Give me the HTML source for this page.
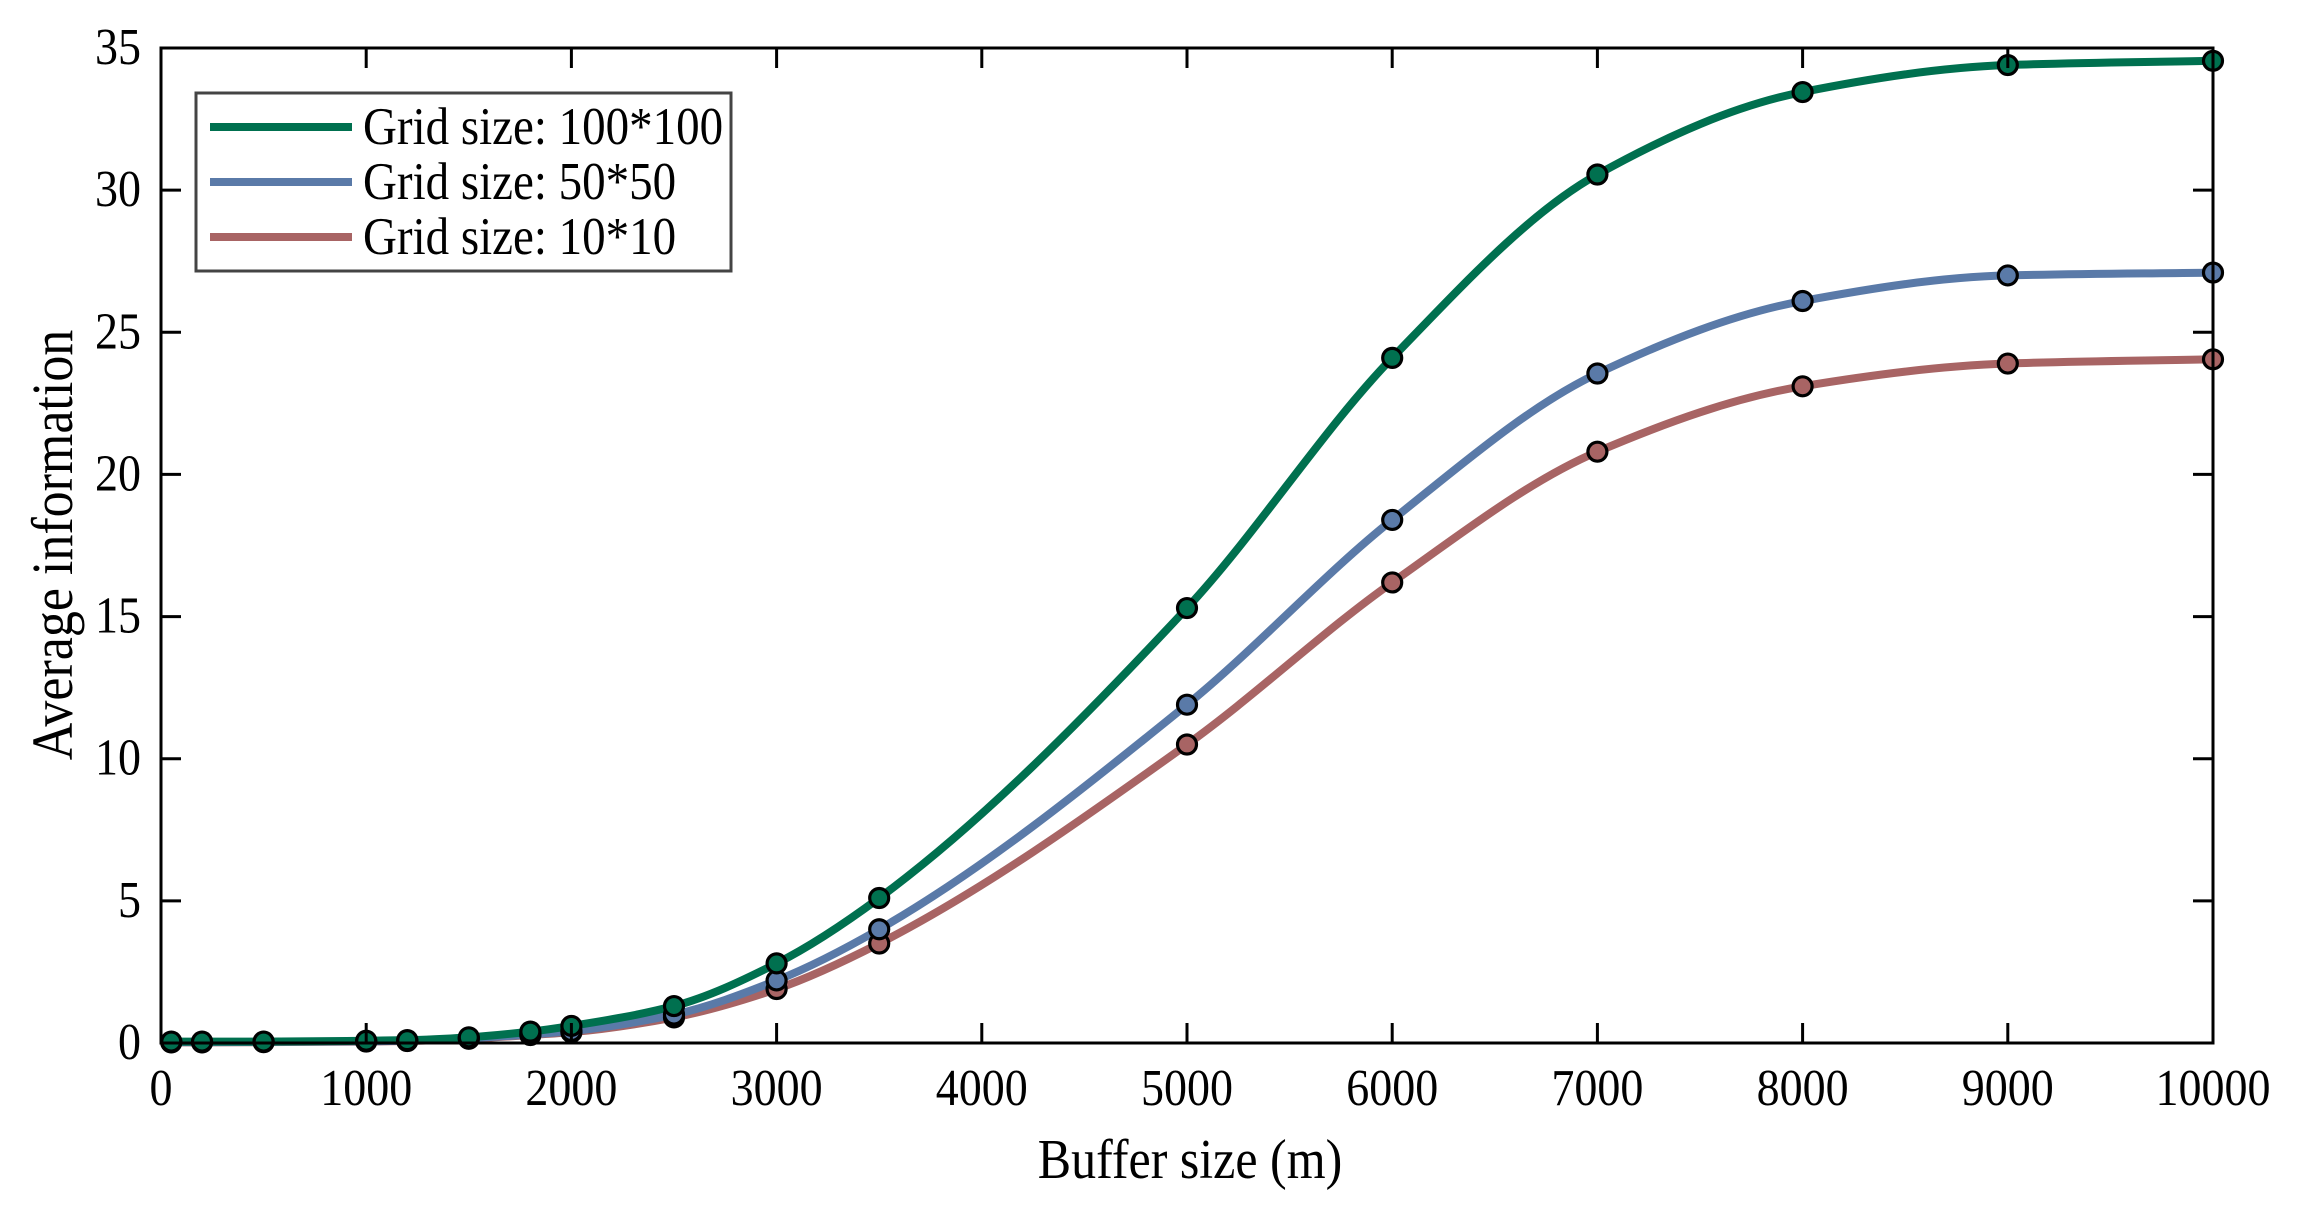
<!DOCTYPE html>
<html><head><meta charset="utf-8"><style>
html,body{margin:0;padding:0;background:#fff;}
svg{display:block;}
text{font-family:"Liberation Serif",serif;fill:#000;}
</style></head><body>
<svg id="s" width="2307" height="1219" viewBox="0 0 2307 1219" xmlns="http://www.w3.org/2000/svg">
<rect width="2307" height="1219" fill="#fff"/>
<g id="curves"></g>
<g id="marks"></g>
<g id="axes"></g>
<rect x="196" y="93" width="535" height="178" fill="#fff" stroke="#444" stroke-width="3"/>
<line x1="210" y1="127" x2="352" y2="127" stroke="#00704f" stroke-width="8"/>
<line x1="210" y1="182" x2="352" y2="182" stroke="#5a7aa8" stroke-width="8"/>
<line x1="210" y1="237" x2="352" y2="237" stroke="#a86464" stroke-width="8"/>
<g font-size="47">
<text transform="translate(363,144) scale(1,1.12)">Grid size: 100*100</text>
<text transform="translate(363,199) scale(1,1.12)">Grid size: 50*50</text>
<text transform="translate(363,254) scale(1,1.12)">Grid size: 10*10</text>
</g>
<text transform="translate(1190,1178) scale(1,1.12)" font-size="50" text-anchor="middle">Buffer size (m)</text>
<text transform="translate(72,545) rotate(-90) scale(1,1.12)" font-size="52" text-anchor="middle">Average information</text>
</svg>
<script>
var L=161,R=2213,T=48,B=1043;
function X(v){return L+(R-L)*v/10000;}
function Y(v){return B-(B-T)*v/35;}
var xs=[50,200,500,1000,1200,1500,1800,2000,2500,3000,3500,5000,6000,7000,8000,9000,10000];
var S=[
{c:"#a86464",y:[0.02,0.02,0.03,0.05,0.07,0.15,0.28,0.38,0.9,1.9,3.5,10.5,16.2,20.8,23.1,23.9,24.05]},
{c:"#5a7aa8",y:[0.03,0.03,0.04,0.06,0.08,0.17,0.3,0.42,1.0,2.2,4.0,11.9,18.4,23.55,26.1,27.0,27.1]},
{c:"#00704f",y:[0.05,0.05,0.05,0.08,0.1,0.2,0.4,0.6,1.3,2.8,5.1,15.3,24.1,30.55,33.45,34.4,34.55]}
];
function mono(x,y){var n=x.length,d=[],m=[];for(var i=0;i<n-1;i++)d.push((y[i+1]-y[i])/(x[i+1]-x[i]));
m[0]=d[0];m[n-1]=d[n-2];for(i=1;i<n-1;i++){if(d[i-1]*d[i]<=0)m[i]=0;else{var w1=2*(x[i+1]-x[i])+(x[i]-x[i-1]),w2=(x[i+1]-x[i])+2*(x[i]-x[i-1]);m[i]=(w1+w2)/(w1/d[i-1]+w2/d[i]);}}
var p="M"+X(x[0])+","+Y(y[0]);
for(i=0;i<n-1;i++){var h=x[i+1]-x[i];p+="C"+X(x[i]+h/3)+","+Y(y[i]+m[i]*h/3)+" "+X(x[i+1]-h/3)+","+Y(y[i+1]-m[i+1]*h/3)+" "+X(x[i+1])+","+Y(y[i+1]);}
return p;}
var ns="http://www.w3.org/2000/svg";
var cg=document.getElementById("curves"),mg=document.getElementById("marks"),ag=document.getElementById("axes");
function el(t,a,p){var e=document.createElementNS(ns,t);for(var k in a)e.setAttribute(k,a[k]);p.appendChild(e);return e;}
S.forEach(function(s){el("path",{d:mono(xs,s.y),fill:"none",stroke:s.c,"stroke-width":8},cg);});
S.forEach(function(s){xs.forEach(function(x,i){el("circle",{cx:X(x),cy:Y(s.y[i]),r:9.5,fill:s.c,stroke:"#000","stroke-width":3.2},mg);});});
el("rect",{x:L,y:T,width:R-L,height:B-T,fill:"none",stroke:"#000","stroke-width":3},ag);
for(var v=0;v<=10000;v+=1000){var x=X(v);
el("line",{x1:x,y1:B,x2:x,y2:B-20,stroke:"#000","stroke-width":3},ag);
el("line",{x1:x,y1:T,x2:x,y2:T+20,stroke:"#000","stroke-width":3},ag);
var t=el("text",{transform:"translate("+x+",1105) scale(1,1.12)","font-size":46,"text-anchor":"middle"},ag);t.textContent=v;}
for(v=0;v<=35;v+=5){var y=Y(v);
el("line",{x1:L,y1:y,x2:L+20,y2:y,stroke:"#000","stroke-width":3},ag);
el("line",{x1:R,y1:y,x2:R-20,y2:y,stroke:"#000","stroke-width":3},ag);
t=el("text",{transform:"translate(141,"+(y+16)+") scale(1,1.12)","font-size":46,"text-anchor":"end"},ag);t.textContent=v;}
</script>
</body></html>
